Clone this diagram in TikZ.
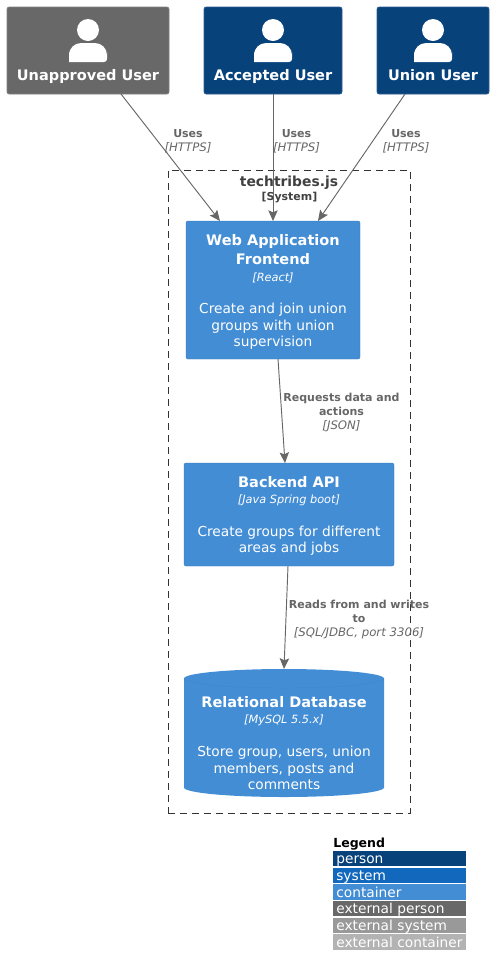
\documentclass[tikz,border=0pt]{standalone}
\usepackage{fontspec}
\setmainfont{DejaVu Sans}
\usetikzlibrary{arrows.meta,positioning}
\definecolor{personblue}{HTML}{08427B}
\definecolor{systemblue}{HTML}{1168BD}
\definecolor{containerblue}{HTML}{438DD5}
\definecolor{extperson}{HTML}{686868}
\definecolor{extsystem}{HTML}{999999}
\definecolor{extcontainer}{HTML}{B3B3B3}
\definecolor{relgray}{HTML}{666666}
\newcommand{\titlefont}{\fontsize{10.9}{14.25}\selectfont\bfseries}
\newcommand{\techfont}{\fontsize{8.5}{12.6}\selectfont\itshape}
\newcommand{\bodyfont}{\fontsize{10.3}{12.4}\selectfont}
\newcommand{\relname}{\fontsize{8.25}{10.5}\selectfont\bfseries}
\newcommand{\reltech}{\fontsize{8.8}{10.5}\selectfont\itshape}
\tikzset{
    x=0.75pt, y=-0.75pt,
    personbox/.style={rectangle,rounded corners=1.5pt,fill=#1,draw=#1!85!white,line width=0.4pt,minimum height=65.25pt,outer sep=0pt},
    persontext/.style={anchor=south,yshift=7.5pt,text=white,font=\fontsize{10.9}{14}\selectfont\bfseries,text height=9pt,text depth=2.5pt,inner sep=0pt},
    containerbox/.style={rectangle,rounded corners=1.5pt,fill=containerblue,draw=containerblue!85!black,line width=0.3pt,text=white,align=center,outer sep=0pt,inner sep=0pt},
    boundary/.style={rectangle,draw=black!80,dashed,dash pattern=on 5.5pt off 3.5pt,line width=0.5pt,outer sep=0pt},
    rel/.style={-{Stealth[length=8pt,width=7pt,inset=1.5pt]},relgray,line width=0.7pt},
    rellabel/.style={text=relgray,align=center,inner sep=0pt},
    legendrow/.style={rectangle,fill=#1,text=white,anchor=north west,minimum width=99.75pt,minimum height=11.6pt,inner xsep=2.5pt,inner ysep=0pt,outer sep=0pt,text height=8.9pt,text depth=1.4pt,text width=94.75pt,align=left,font=\fontsize{10.3}{12}\selectfont},
    personicon/.pic={
        \fill[white] (0,-32) circle (11);
        \fill[white] (-19,0) [rounded corners=2.2pt] -- (-19,-7) [rounded corners=9pt] -- (-19,-19) -- (19,-19) [rounded corners=2.2pt] -- (19,-7) -- (19,0) [sharp corners] -- cycle;
    }
}

\begin{document}
\begin{tikzpicture}

    \useasboundingbox (0,0) rectangle (493,972);

    % system boundary
    \node[boundary,minimum width=181.5pt,minimum height=482.25pt] (system boundary) at (289,491.5) {};
    \node[text=black!75,font=\fontsize{10.4}{14}\selectfont\bfseries,inner sep=0pt] (boundary title) at (289,183) {techtribes.js};
    \node[text=black!75,font=\fontsize{8.2}{11}\selectfont\bfseries,inner sep=0pt] (boundary type) at (289.5,197.5) {[System]};

    % users
    \node[personbox=extperson,minimum width=121.5pt,label={[persontext]south:Unapproved User}] (user 1) at (88,50.5) {};
    \node[personbox=personblue,minimum width=103.5pt,label={[persontext]south:Accepted User}] (user 2) at (273,50.5) {};
    \node[personbox=personblue,minimum width=84pt,label={[persontext]south:Union User}] (user 3) at (433,50.5) {};
    \pic at (88,62) {personicon};
    \pic at (273,62) {personicon};
    \pic at (433,62) {personicon};

    % containers
    \node[containerbox,minimum width=130.5pt,minimum height=103.5pt] (frontend) at (273,290) {\titlefont\rule{0pt}{11.2pt}Web Application\\[2.25pt]\titlefont Frontend\\[0.75pt]\techfont [React]\\[12.5pt]\bodyfont Create and join union\\[0.4pt]\bodyfont groups with union\\[0.4pt]\bodyfont supervision};
    \node[containerbox,minimum width=157.5pt,minimum height=77.25pt] (backend) at (289,514.5) {\titlefont\rule{0pt}{10.5pt}Backend API\\\techfont [Java Spring boot]\\[12.5pt]\bodyfont Create groups for different\\[0.4pt]\bodyfont areas and jobs};

    % database drum
    \fill[containerblue] (184,678.5) arc[start angle=180,end angle=360,x radius=100,y radius=9.5] -- (384,787.5) arc[start angle=0,end angle=180,x radius=100,y radius=9.5] -- cycle;
    \draw[containerblue!95!black,line width=0.3pt] (184,678.5) arc[start angle=180,end angle=0,x radius=100,y radius=9.5];
    \node[minimum width=150pt,minimum height=96pt,inner sep=0pt,outer sep=0pt] (database) at (284,733) {};
    \node[text=white,align=center,inner sep=0pt] (database text) at (284,743.5) {\titlefont Relational Database\\\techfont [MySQL 5.5.x]\\[12.75pt]\bodyfont Store group, users, union\\[0.4pt]\bodyfont members, posts and\\[0.4pt]\bodyfont comments};

    % connectors
    \draw[rel] ([xshift=24.75pt]user 1.south) -- ([xshift=-39.75pt]frontend.north);
    \draw[rel] (user 2.south) -- (frontend.north);
    \draw[rel] ([xshift=-21pt]user 3.south) -- ([xshift=33.75pt]frontend.north);
    \draw[rel] ([xshift=3.75pt]frontend.south) -- ([xshift=-3pt]backend.north);
    \draw[rel] ([xshift=-0.75pt]backend.south) -- (database.north);

    % connector labels
    \node[rellabel] (uses 1) at (188,141) {\relname Uses\\[-1.5pt]\reltech [HTTPS]};
    \node[rellabel] (uses 2) at (296.5,141) {\relname Uses\\[-1.5pt]\reltech [HTTPS]};
    \node[rellabel] (uses 3) at (406,141) {\relname Uses\\[-1.5pt]\reltech [HTTPS]};
    \node[rellabel] (requests) at (341.5,412.5) {\relname Requests data and\\[-1.5pt]\relname actions\\[-1.5pt]\reltech [JSON]};
    \node[rellabel] (reads) at (359,620) {\relname Reads from and writes\\[-1.5pt]\relname to\\[-1.5pt]\reltech [SQL/JDBC, port 3306]};

    % legend
    \node[inner sep=0pt,anchor=west,font=\fontsize{9.4}{12}\selectfont\bfseries] (legend title) at (333,844.5) {Legend};
    \node[legendrow=personblue] (legend 1) at (333,851) {person};
    \node[legendrow=systemblue,below=0.9pt of legend 1] (legend 2) {system};
    \node[legendrow=containerblue,below=0.9pt of legend 2] (legend 3) {container};
    \node[legendrow=extperson,below=0.9pt of legend 3] (legend 4) {external person};
    \node[legendrow=extsystem,below=0.9pt of legend 4] (legend 5) {external system};
    \node[legendrow=extcontainer,below=0.9pt of legend 5] (legend 6) {external container};

\end{tikzpicture}
\end{document}
